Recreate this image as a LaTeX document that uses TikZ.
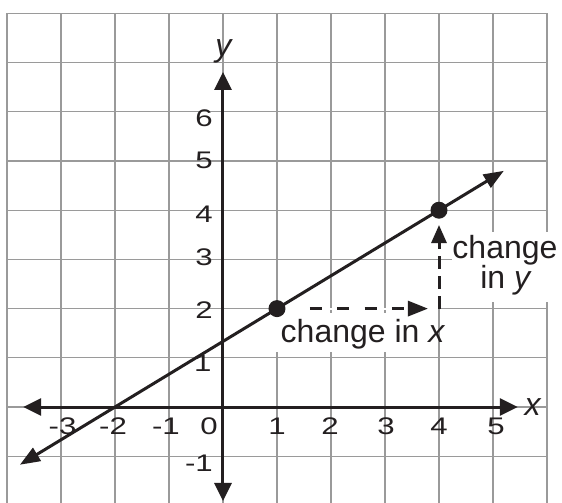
\documentclass[tikz,border=0pt]{standalone}
\usepackage{fontspec}
\setmainfont{Liberation Sans}
\usetikzlibrary{arrows.meta}
\definecolor{gridgray}{HTML}{9A9A9A}
\definecolor{ink}{HTML}{231F20}
\newcommand{\dg}[1]{\scalebox{1.3}[1]{#1}}
\begin{document}
\begin{tikzpicture}[x=54pt,y=49.2pt,
  gridline/.style={gridgray, line width=1.3pt},
  axisline/.style={ink, line width=3pt, {Triangle[length=18pt,width=17pt]}-{Triangle[length=18pt,width=17pt]}},
  graphline/.style={ink, line width=3pt, {Triangle[length=20pt,width=15pt]}-{Triangle[length=20pt,width=15pt]}},
  dashx/.style={ink, line width=3pt, dash pattern=on 12pt off 15.3pt, -{Triangle[length=20pt,width=15pt]}},
  dashy/.style={ink, line width=3pt, dash pattern=on 13pt off 7pt, -{Triangle[length=18pt,width=15pt]}},
  dot/.style={circle, fill=ink, inner sep=0pt, minimum size=17pt},
  tick/.style={inner sep=0pt, text=ink, font=\fontsize{24}{24}\selectfont},
  ytick/.style={tick, anchor=east},
  lbl/.style={inner sep=0pt, anchor=base, text=ink, font=\fontsize{32}{32}\selectfont},
  cutout/.style={white, line width=2.2pt}
]
\useasboundingbox (-4.1296,-1.9309) rectangle (6.2778,8.2724);
\fill[white] (-4.1296,-1.9309) rectangle (6.2778,8.2724);
% grid
\foreach \i in {-4,...,6} \draw[gridline] (\i,-1.95) -- (\i,8);
\foreach \j in {-1,...,8} \draw[gridline] (-4,\j) -- (6,\j);
% white label backgrounds
\fill[white] (4.241,2.134) rectangle (6.4,3.557);
\fill[white] (0.907,1.118) rectangle (3.99,1.911);
\draw[cutout] (1,2) -- (3.98,2);
\draw[cutout] (4,2.02) -- (4,4);
% axes
\coordinate (xa1) at (-3.70,0);
\coordinate (xa2) at (5.46,0);
\coordinate (ya1) at (0,-1.91);
\coordinate (ya2) at (0,6.81);
\draw[axisline] (xa1) -- (xa2);
\draw[axisline] (ya1) -- (ya2);
% graph line
\coordinate (L1) at (-3.76,-1.173);
\coordinate (L2) at (5.2,4.8);
\draw[graphline] (L1) -- (L2);
% dashed arrows
\coordinate (hs) at (1.611,2);
\coordinate (he) at (3.796,2);
\coordinate (vs) at (4,2);
\coordinate (ve) at (4,3.699);
\draw[dashx] (hs) -- (he);
\draw[dashy] (vs) -- (ve);
% points
\node[dot] (p1) at (1,2) {};
\node[dot] (p2) at (4,4) {};
% x tick labels
\node[tick] (tx-3) at (-2.972,-0.386) {\dg{-3}};
\node[tick] (tx-2) at (-2.037,-0.386) {\dg{-2}};
\node[tick] (tx-1) at (-1.056,-0.386) {\dg{-1}};
\node[tick] (tx0) at (-0.259,-0.386) {\dg{0}};
\node[tick] (tx1) at (1.0,-0.386) {\dg{1}};
\node[tick] (tx2) at (1.981,-0.386) {\dg{2}};
\node[tick] (tx3) at (3.019,-0.386) {\dg{3}};
\node[tick] (tx4) at (4.0,-0.386) {\dg{4}};
\node[tick] (tx5) at (5.056,-0.386) {\dg{5}};
% y tick labels
\node[ytick] (ty6) at (-0.185,5.874) {\dg{6}};
\node[ytick] (ty5) at (-0.185,5.020) {\dg{5}};
\node[ytick] (ty4) at (-0.185,3.923) {\dg{4}};
\node[ytick] (ty3) at (-0.185,3.049) {\dg{3}};
\node[ytick] (ty2) at (-0.185,1.972) {\dg{2}};
\node[ytick] (ty1) at (-0.21,0.894) {\dg{1}};
\node[ytick] (ty-1) at (-0.185,-1.138) {\dg{-1}};
% axis labels
\node[lbl] (ylab) at (0.02,7.114) {\textit{y}};
\node[lbl] (xlab) at (5.741,-0.163) {\textit{x}};
% change labels
\node[lbl] (cx) at (2.593,1.301) {change in \textit{x}};
\node[lbl] (cy1) at (5.222,3.022) {change};
\node[lbl] (cy2) at (5.241,2.413) {in \textit{y}};
\end{tikzpicture}
\end{document}
